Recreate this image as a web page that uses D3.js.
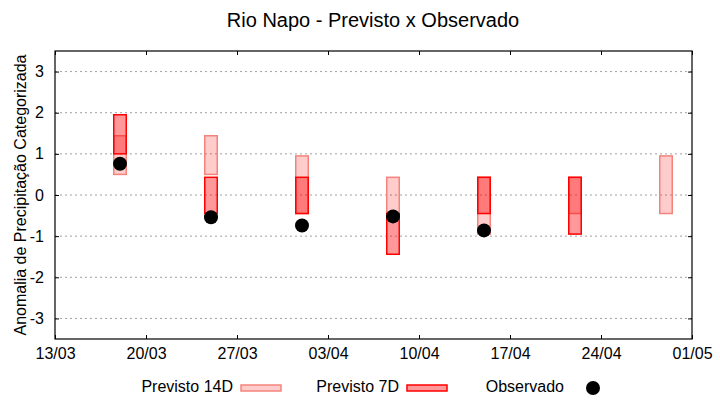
<!DOCTYPE html>
<meta charset="utf-8">
<script src="https://d3js.org/d3.v7.min.js"></script>
<style>
  body { margin: 0; background: #fff; }
  text { font-family: "Liberation Sans", Arial, sans-serif; fill: #000; }
</style>
<svg id="chart" width="720" height="400"></svg>
<script>

    // forecast dates (dd/mm) and category bounds
    var dates = ["18/03", "25/03", "01/04", "08/04", "15/04", "22/04", "29/04"];
    var prev14Lo = [0.5, 0.5, -0.45, -0.45, -0.95, -0.45, -0.45];
    var prev14Hi = [1.44, 1.44, 0.95, 0.43, 0.43, 0.43, 0.95];
    var prev7Lo = [1.0, -0.45, -0.45, -1.44, -0.45, -0.95, null];
    var prev7Hi = [1.95, 0.43, 0.43, -0.45, 0.43, 0.43, null];
    var observed = [0.76, -0.54, -0.74, -0.52, -0.86, null, null];

    var xTickLabels = ["13/03", "20/03", "27/03", "03/04", "10/04", "17/04", "24/04", "01/05"];
    var yTicks = [-3, -2, -1, 0, 1, 2, 3];

    const parse = s => d3.timeParse("%d/%m/%Y")(s + "/2023");

    const svg = d3.select("#chart");
    const margin = {left: 55, right: 28, top: 51, bottom: 61};
    const width = 720, height = 400;

    const x = d3.scaleTime()
        .domain([parse("13/03"), parse("01/05")])
        .range([margin.left, width - margin.right]);

    const y = d3.scaleLinear()
        .domain([-3.5, 3.5])
        .range([height - margin.bottom, margin.top]);

    const dayW = x(parse("02/03")) - x(parse("01/03"));
    const barW = dayW * 0.96;

    // title
    svg.append("text")
        .attr("x", 373).attr("y", 27)
        .attr("text-anchor", "middle")
        .style("font-size", "20px")
        .text("Rio Napo - Previsto x Observado");

    // y label
    svg.append("text")
        .attr("transform", "translate(26," + y(0) + ") rotate(-90)")
        .attr("text-anchor", "middle")
        .style("font-size", "16px")
        .text("Anomalia de Precipitação Categorizada");

    // grid
    svg.append("g")
        .selectAll("line")
        .data(yTicks)
        .enter().append("line")
            .attr("x1", margin.left).attr("x2", width - margin.right)
            .attr("y1", d => y(d)).attr("y2", d => y(d))
            .style("stroke", "#a0a0a0")
            .style("stroke-width", 1)
            .style("stroke-dasharray", "2,3");

    // axes (gnuplot style, inward ticks on all sides)
    const xTickVals = xTickLabels.map(parse);
    const fmt = d3.timeFormat("%d/%m");

    svg.append("g")
        .attr("transform", "translate(0," + y.range()[0] + ")")
        .call(d3.axisBottom(x).tickValues(xTickVals).tickFormat(fmt).tickSizeInner(-4).tickSizeOuter(0).tickPadding(9))
        .call(g => g.selectAll("text").style("font-size", "16px").style("font-family", "Liberation Sans, Arial, sans-serif"));

    svg.append("g")
        .attr("transform", "translate(0," + y.range()[1] + ")")
        .call(d3.axisTop(x).tickValues(xTickVals).tickFormat("").tickSizeInner(-4).tickSizeOuter(0));

    svg.append("g")
        .attr("transform", "translate(" + margin.left + ",0)")
        .call(d3.axisLeft(y).tickValues(yTicks).tickFormat(d => String(d)).tickSizeInner(-4).tickSizeOuter(0).tickPadding(11))
        .call(g => g.selectAll("text").style("font-size", "16px").style("font-family", "Liberation Sans, Arial, sans-serif"));

    svg.append("g")
        .attr("transform", "translate(" + (width - margin.right) + ",0)")
        .call(d3.axisRight(y).tickValues(yTicks).tickFormat("").tickSizeInner(-4).tickSizeOuter(0));

    svg.selectAll(".domain").remove();
    svg.selectAll(".tick line").style("stroke", "#000");

    svg.append("rect")
        .attr("x", margin.left).attr("y", margin.top)
        .attr("width", width - margin.left - margin.right)
        .attr("height", height - margin.top - margin.bottom)
        .style("fill", "none")
        .style("stroke", "#000")
        .style("stroke-width", 1.2);

    const idx = d3.range(dates.length);

    // Previsto 14D
    svg.append("g")
        .selectAll("rect")
        .data(idx.filter(i => prev14Lo[i] != null))
        .enter().append("rect")
            .attr("x", i => x(parse(dates[i])) - barW / 2)
            .attr("width", barW)
            .attr("y", i => y(prev14Hi[i]))
            .attr("height", i => y(prev14Lo[i]) - y(prev14Hi[i]))
            .style("fill", "rgba(255,0,0,0.2)")
            .style("stroke", "#f4837b")
            .style("stroke-width", 1.5);

    // Previsto 7D
    svg.append("g")
        .selectAll("rect")
        .data(idx.filter(i => prev7Lo[i] != null))
        .enter().append("rect")
            .attr("x", i => x(parse(dates[i])) - barW / 2)
            .attr("width", barW)
            .attr("y", i => y(prev7Hi[i]))
            .attr("height", i => y(prev7Lo[i]) - y(prev7Hi[i]))
            .style("fill", "rgba(255,0,0,0.4)")
            .style("stroke", "#ff0000")
            .style("stroke-width", 1.5);

    // Observado
    svg.append("g")
        .selectAll("circle")
        .data(idx.filter(i => observed[i] != null))
        .enter().append("circle")
            .attr("cx", i => x(parse(dates[i])))
            .attr("cy", i => y(observed[i]))
            .attr("r", 7)
            .style("fill", "#000");

    // legend
    const leg = svg.append("g").style("font-size", "16px");
    leg.append("text").attr("x", 233).attr("y", 392).attr("text-anchor", "end").text("Previsto 14D");
    leg.append("rect").attr("x", 241).attr("y", 385).attr("width", 40).attr("height", 6)
        .style("fill", "rgba(255,0,0,0.2)").style("stroke", "#f4837b").style("stroke-width", 1.5);
    leg.append("text").attr("x", 399).attr("y", 392).attr("text-anchor", "end").text("Previsto 7D");
    leg.append("rect").attr("x", 407).attr("y", 385).attr("width", 40).attr("height", 6)
        .style("fill", "rgba(255,0,0,0.4)").style("stroke", "#ff0000").style("stroke-width", 1.5);
    leg.append("text").attr("x", 564).attr("y", 392).attr("text-anchor", "end").text("Observado");
    leg.append("circle").attr("cx", 593).attr("cy", 388).attr("r", 7).style("fill", "#000");

</script>
